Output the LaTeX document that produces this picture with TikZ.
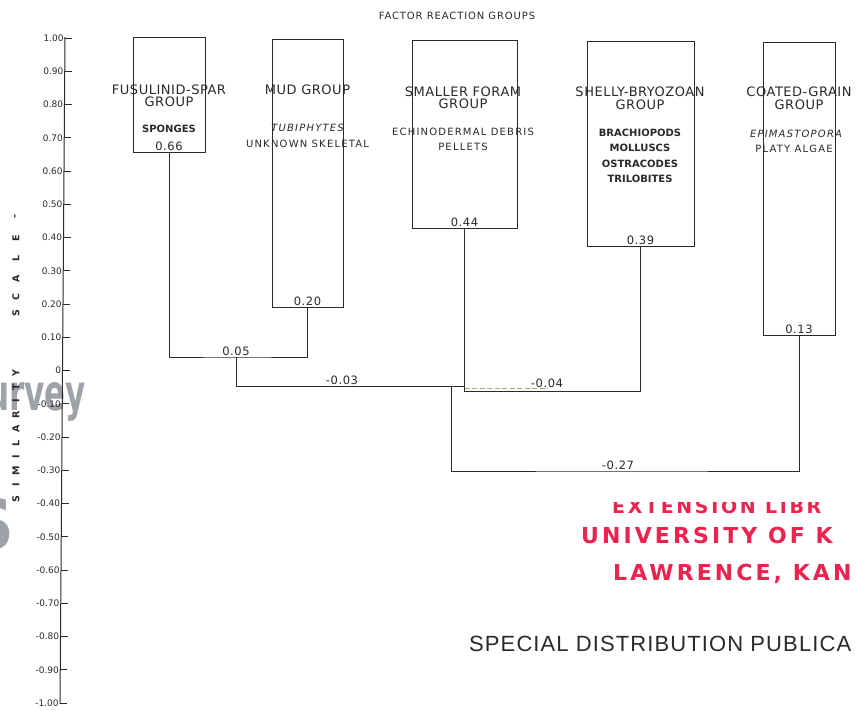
\documentclass[tikz,border=0pt]{standalone}
\usepackage{fontspec}
\setmainfont{DejaVu Sans}
\newfontfamily\fTitle[LetterSpace=9]{DejaVu Sans}
\newfontfamily\fGroup[LetterSpace=4]{DejaVu Sans}
\newfontfamily\fItem[LetterSpace=12]{DejaVu Sans}
\newfontfamily\fItemB[LetterSpace=0]{DejaVu Sans}
\newfontfamily\fVal[LetterSpace=5]{DejaVu Sans}
\newfontfamily\fTick{DejaVu Sans}
\newfontfamily\fStamp[LetterSpace=14]{DejaVu Sans}
\newfontfamily\fPub[LetterSpace=5]{Liberation Sans}
\definecolor{ink}{HTML}{2A2A2A}
\definecolor{stampred}{RGB}{234,36,78}
\definecolor{wmgray}{RGB}{160,162,170}
\definecolor{dashcol}{RGB}{175,165,95}
\tikzset{
  grpbox/.style={draw=ink, line width=1pt, inner sep=0pt, outer sep=0pt, anchor=north west},
  link/.style={draw=ink, line width=1pt},
  dashlink/.style={draw=dashcol, line width=0.9pt, dashed, dash pattern=on 5pt off 2.5pt},
  grptitle/.style={font=\fGroup\fontsize{13}{14}\selectfont, text=ink, inner sep=0pt, anchor=base},
  itemtext/.style={font=\fItem\fontsize{10}{12}\selectfont, text=ink, inner sep=0pt, anchor=base},
  itembold/.style={font=\fItemB\bfseries\fontsize{10}{12}\selectfont, text=ink, inner sep=0pt, anchor=base},
  itemital/.style={font=\fItem\itshape\fontsize{10}{12}\selectfont, text=ink, inner sep=0pt, anchor=base},
  valtext/.style={font=\fVal\fontsize{11.5}{13}\selectfont, text=ink, inner sep=0.8pt, anchor=south},
  ticklab/.style={font=\fTick\fontsize{9}{10}\selectfont, text=ink, inner sep=1.2pt, anchor=east},
  axlet/.style={font=\bfseries\fontsize{9.5}{10}\selectfont, text=ink, inner sep=0pt, rotate=90},
  wmtext/.style={font=\bfseries\fontsize{50}{50}\selectfont, text=wmgray, inner sep=0pt},
  stamptext/.style={font=\fStamp\bfseries\fontsize{22}{24}\selectfont, text=stampred, inner sep=0pt, anchor=base west},
  pubtext/.style={font=\fPub\fontsize{22}{24}\selectfont, text=ink, inner sep=0pt, anchor=base west},
  titletext/.style={font=\fTitle\fontsize{10}{12}\selectfont, text=ink, inner sep=0pt}
}
\begin{document}
\begin{tikzpicture}[x=1pt,y=-1pt]
\useasboundingbox (0,0) rectangle (857,710);
\clip (0,0) rectangle (857,710);
\fill[white] (0,0) rectangle (857,710);

% watermark fragments
\node[wmtext, xscale=0.62, anchor=base east] (wm1) at (86,410) {urvey};
\node[wmtext, font=\bfseries\fontsize{70}{70}\selectfont, anchor=base east] (wm2) at (15,549) {S};

% title
\node[titletext] (title) at (457,15.5) {FACTOR REACTION GROUPS};

% axis
\coordinate (axtop) at (65,37);
\coordinate (axbot) at (60,704);
\draw[link] (axtop) -- (axbot);
\foreach \v/\lab [count=\i] in {1/1.00,0.9/0.90,0.8/0.80,0.7/0.70,0.6/0.60,0.5/0.50,0.4/0.40,0.3/0.30,0.2/0.20,0.1/0.10,0/0,-0.1/-0.10,-0.2/-0.20,-0.3/-0.30,-0.4/-0.40,-0.5/-0.50,-0.6/-0.60,-0.7/-0.70,-0.8/-0.80,-0.9/-0.90,-1/-1.00} {
  \pgfmathsetmacro{\yy}{370.5-332.5*(\v)}
  \pgfmathsetmacro{\xx}{65-5*(\yy-38)/665}
  \coordinate (tk\i) at (\xx,\yy);
  \coordinate (te\i) at (\xx+7,\yy);
  \draw[link, line width=0.8pt] (tk\i) -- (te\i);
  \node[ticklab] (tl\i) at (tk\i) {\lab};
}

% axis caption
\foreach \ch/\yy [count=\i] in {S/499,I/485,M/471,I/457,L/443,A/429,R/415,I/401,T/387,Y/373}
  \node[axlet] (sa\i) at (16,\yy) {\ch};
\foreach \ch/\yy [count=\i] in {S/313,C/297,A/279,L/258,E/238,-/217}
  \node[axlet] (sc\i) at (16,\yy) {\ch};

% group boxes
\node[grpbox, minimum width=72pt, minimum height=115pt] (b1) at (133,37) {};
\node[grpbox, minimum width=71pt, minimum height=268pt] (b2) at (272,39) {};
\node[grpbox, minimum width=105pt, minimum height=188pt] (b3) at (412,40) {};
\node[grpbox, minimum width=107pt, minimum height=205pt] (b4) at (587,41) {};
\node[grpbox, minimum width=72pt, minimum height=293pt] (b5) at (763,42) {};

% box texts
\node[grptitle] (b1t1) at (169,94) {FUSULINID-SPAR};
\node[grptitle] (b1t2) at (169,106) {GROUP};
\node[itembold] (b1i1) at (169,132.5) {SPONGES};

\node[grptitle] (b2t1) at (307.5,94) {MUD GROUP};
\node[itemital] (b2i1) at (307.5,131.5) {TUBIPHYTES};
\node[itemtext] (b2i2) at (307.5,147.5) {UNKNOWN SKELETAL};

\node[grptitle] (b3t1) at (463,96) {SMALLER FORAM};
\node[grptitle] (b3t2) at (463,108.5) {GROUP};
\node[itemtext] (b3i1) at (463,135) {ECHINODERMAL DEBRIS};
\node[itemtext] (b3i2) at (463,150.5) {PELLETS};

\node[grptitle] (b4t1) at (640,96.5) {SHELLY-BRYOZOAN};
\node[grptitle] (b4t2) at (640,109) {GROUP};
\node[itembold] (b4i1) at (640,136.5) {BRACHIOPODS};
\node[itembold] (b4i2) at (640,151.5) {MOLLUSCS};
\node[itembold] (b4i3) at (640,167) {OSTRACODES};
\node[itembold] (b4i4) at (640,182.5) {TRILOBITES};

\node[grptitle] (b5t1) at (799,96.5) {COATED-GRAIN};
\node[grptitle] (b5t2) at (799,109) {GROUP};
\node[itemital] (b5i1) at (796,137) {EPIMASTOPORA};
\node[itemtext] (b5i2) at (794,152) {PLATY ALGAE};

% box values
\node[valtext] (v1) at (b1.south) {0.66};
\node[valtext] (v2) at (b2.south) {0.20};
\node[valtext] (v3) at (b3.south) {0.44};
\node[valtext] (v4) at (b4.south) {0.39};
\node[valtext] (v5) at (b5.south) {0.13};

% dendrogram links
\coordinate (j05) at (236,357);
\draw[link] (b1.south) |- (j05) -| (b2.south);
\coordinate (j03) at (236,386);
\coordinate (e03) at (b3.south |- j03);
\draw[link] (j05) -- (j03) -- (e03);
\coordinate (j04) at (550,391.5);
\draw[link] (b3.south) |- (j04) -| (b4.south);
\coordinate (d04) at (548,388.5);
\draw[dashlink] (b3.south |- d04) -- (d04);
\coordinate (j27a) at (451,386);
\coordinate (j27) at (618,471);
\draw[link] (j27a) |- (j27) -| (b5.south);

% link values
\node[valtext] (v05) at (j05) {0.05};
\node[valtext] (v03) at (342,386) {-0.03};
\node[valtext] (v04) at (547,388.5) {-0.04};
\node[valtext] (v27) at (j27) {-0.27};

% library stamp
\begin{scope}
  \clip (560,502) rectangle (857,516);
  \node[stamptext, font=\fStamp\bfseries\fontsize{19}{22}\selectfont] (st1) at (612,513) {EXTENSION LIBR};
\end{scope}
\node[stamptext] (st2) at (581,543) {UNIVERSITY OF K};
\node[stamptext] (st3) at (613,580) {LAWRENCE, KAN};

% publication line
\node[pubtext] (pub) at (469,651) {SPECIAL DISTRIBUTION PUBLICA};
\end{tikzpicture}
\end{document}
